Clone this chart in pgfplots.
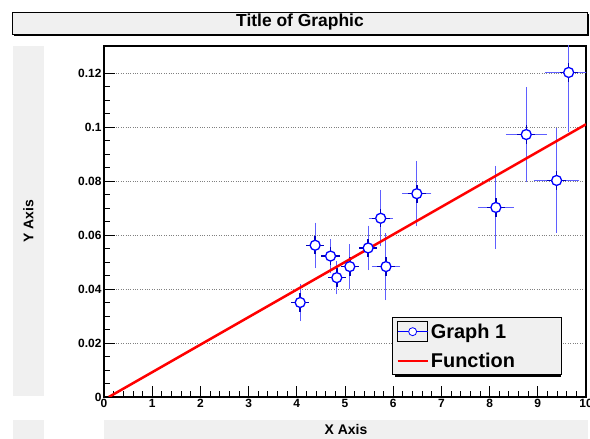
\documentclass[border=0pt]{standalone}
\usepackage{fontspec}
\setmainfont{Liberation Sans}
\usepackage{pgfplots}
\usepackage{pgfplotstable}
\pgfplotsset{compat=1.18}
\definecolor{rootgray}{RGB}{240,240,240}
\definecolor{errblue}{RGB}{95,95,255}
\definecolor{darkblue}{RGB}{0,0,190}

\pgfplotstableread{
x y ex ey sx sy
4.07 0.0350 0.10 0.0060 0.19 0.0034
4.38 0.0562 0.12 0.0075 0.19 0.0034
4.70 0.0522 0.10 0.0053 0.19 0.0034
4.83 0.0442 0.10 0.0053 0.19 0.0034
5.10 0.0483 0.11 0.0073 0.19 0.0034
5.48 0.0552 0.11 0.0073 0.19 0.0034
5.74 0.0662 0.20 0.0095 0.19 0.0034
5.85 0.0483 0.24 0.0115 0.19 0.0034
6.49 0.0753 0.25 0.0112 0.19 0.0034
8.13 0.0702 0.32 0.0145 0.19 0.0034
8.76 0.0972 0.37 0.0165 0.19 0.0034
9.39 0.0802 0.42 0.0184 0.19 0.0034
9.64 0.1202 0.43 0.0210 0.19 0.0034
}\datatable

\begin{document}
\begin{tikzpicture}[x=1bp,y=1bp]
\useasboundingbox (0,0) rectangle (590,439);
% pad backgrounds
\fill[rootgray] (13,43) rectangle (44,393);
\fill[rootgray] (104,0) rectangle (588,19);
\fill[rootgray] (13,0) rectangle (44,19);
% title box with shadow
\fill[black] (14,403) rectangle (589,425);
\filldraw[fill=rootgray,draw=black,line width=0.8bp] (12,405) rectangle (587,427);
\node[font=\fontsize{17.5}{20}\selectfont\bfseries] at (300,416.5) {Title of Graphic};
\node[font=\fontsize{14}{16}\selectfont\bfseries, rotate=90] at (28.5,218) {Y Axis};
\node[font=\fontsize{14}{16}\selectfont\bfseries] at (346,9) {X Axis};

\begin{axis}[
  at={(104bp,42bp)}, anchor=south west,
  scale only axis, width=482bp, height=351bp,
  xmin=0, xmax=10, ymin=0, ymax=0.13,
  xtick={0,1,2,3,4,5,6,7,8,9,10},
  ytick={0,0.02,0.04,0.06,0.08,0.1,0.12},
  minor x tick num=4, minor y tick num=3,
  tick align=inside, xtick pos=bottom, ytick pos=left,
  major tick length=11bp, minor tick length=6bp,
  ymajorgrids, grid style={dotted, gray, line width=0.7bp},
  axis line style={line width=1.2bp},
  tick style={black, line width=0.8bp},
  scaled y ticks=false,
  ticklabel style={font=\fontsize{12}{14}\selectfont\bfseries},
  /pgf/number format/assume math mode=true,
  yticklabel style={/pgf/number format/fixed, /pgf/number format/precision=2, xshift=1bp},
  xticklabel style={yshift=1bp},
  legend style={at={(0.5975,0.228)}, anchor=north west, fill=rootgray, draw=black,
    line width=0.8bp, font=\fontsize{20}{22}\selectfont\bfseries,
    cells={anchor=west}, inner xsep=4bp, inner ysep=4bp, row sep=9bp},
]
% legend shadow
\fill[black] (rel axis cs:0.6037,0.057) rectangle (rel axis cs:0.948,0.219);
\addplot[forget plot, only marks, mark=none,
  error bars/.cd, x dir=both, x explicit, y dir=both, y explicit,
  error bar style={errblue, line width=1bp},
  error mark options={errblue, line width=1bp, mark size=2.5bp}]
  table[x=x, y=y, x error=ex, y error=ey] {\datatable};
\addplot[forget plot, only marks, mark=none,
  error bars/.cd, x dir=both, x explicit, y dir=both, y explicit,
  error bar style={darkblue, line width=1.4bp}, error mark=none]
  table[x=x, y=y, x error=sx, y error=sy] {\datatable};
\addplot[blue, only marks, mark=*, mark size=5bp,
  mark options={fill=white, draw=blue, line width=1.3bp},
  legend image code/.code={
    \draw[black, line width=0.6bp, fill=none] (0bp,-10bp) rectangle (30bp,10bp);
    \draw[blue, line width=0.8bp] (0bp,0bp) -- (30bp,0bp);
    \draw[blue, line width=0.8bp, fill=white] (15bp,0bp) circle (4bp);
  }]
  table[x=x, y=y] {\datatable};
\addlegendentry{Graph 1}
\addplot[red, line width=2.5bp,
  legend image code/.code={\draw[red, line width=2.5bp] (0bp,0bp) -- (30bp,0bp);}]
  coordinates {(0.1,0) (10,0.101)};
\addlegendentry{Function\hspace*{40bp}}
\end{axis}
\end{tikzpicture}
\end{document}
